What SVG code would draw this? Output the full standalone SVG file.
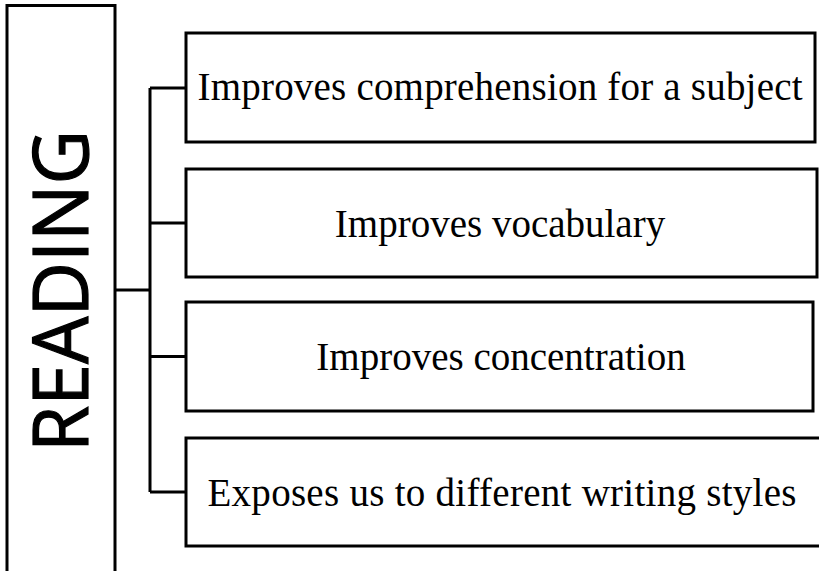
<svg xmlns="http://www.w3.org/2000/svg" width="819" height="571" viewBox="0 0 819 571">
<style>
.box{fill:#fff;stroke:#000;stroke-width:3}
.lbl{font-family:"Liberation Serif","Times New Roman",serif;font-size:39px;fill:#000;text-anchor:middle}
.conn{fill:none;stroke:#000;stroke-width:3}
</style>
<rect width="819" height="571" fill="#fff"/>
<g id="reading">
<rect class="box" x="7" y="5.5" width="108" height="600"/>
<text transform="translate(88,291) rotate(-90)" x="0" y="0" text-anchor="middle" font-family="'Open Sans','Liberation Sans',Arial,sans-serif" font-size="77" textLength="322" lengthAdjust="spacingAndGlyphs" fill="#000" stroke="#000" stroke-width="1.2">READING</text>
</g>
<g id="connectors">
<path class="conn" d="M115 290 H150 M150 88 V492 M150 88 H186 M150 223 H186 M150 356.5 H186 M150 492 H186"/>
</g>
<g id="n1">
<rect class="box" x="186" y="33" width="629" height="109"/>
<text class="lbl" x="500" y="100" textLength="605" lengthAdjust="spacing">Improves comprehension for a subject</text>
</g>
<g id="n2">
<rect class="box" x="186" y="169" width="631" height="108"/>
<text class="lbl" x="500" y="237">Improves vocabulary</text>
</g>
<g id="n3">
<rect class="box" x="186" y="302" width="627" height="109"/>
<text class="lbl" x="501" y="370">Improves concentration</text>
</g>
<g id="n4">
<rect class="box" x="186" y="438" width="640" height="108"/>
<text class="lbl" x="502" y="506" textLength="589" lengthAdjust="spacing">Exposes us to different writing styles</text>
</g>
</svg>
